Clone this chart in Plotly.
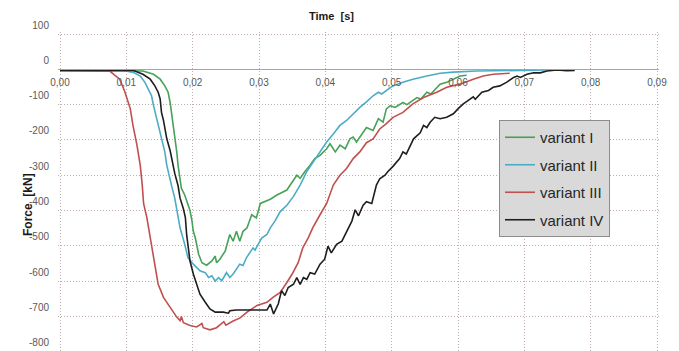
import plotly.graph_objects as go

# ---------------- data (time in s, force in kN) ----------------
time_I = [0.0, 0.0100, 0.0125, 0.0141, 0.0151, 0.0158, 0.0163, 0.0166, 0.0168, 0.0171, 0.0173,
          0.0176, 0.0178, 0.0181, 0.0183, 0.0188, 0.0193, 0.0196, 0.0199, 0.0201, 0.0204, 0.0209,
          0.0214, 0.0221, 0.0229, 0.0234, 0.0236, 0.0241, 0.0249, 0.0256, 0.0261, 0.0266, 0.0271,
          0.0276, 0.0282, 0.0289, 0.0296, 0.0302, 0.0317, 0.0327, 0.0342, 0.0347, 0.0357, 0.0362,
          0.0369, 0.0377, 0.0384, 0.0392, 0.0402, 0.0407, 0.0415, 0.0422, 0.0430, 0.0437, 0.0442,
          0.0447, 0.0455, 0.0462, 0.0472, 0.0480, 0.0487, 0.0492, 0.0498, 0.0505, 0.0517, 0.0523,
          0.0538, 0.0544, 0.0553, 0.0559, 0.0573, 0.0583, 0.0593, 0.0603, 0.0613]
force_I = [-3, -3, -5, -14, -28, -47, -65, -94, -122, -155, -197,
           -234, -272, -309, -337, -356, -384, -400, -430, -459, -478, -524,
           -548, -555, -543, -529, -548, -538, -515, -468, -487, -459, -487,
           -459, -449, -412, -421, -380, -368, -356, -342, -328, -300, -309,
           -290, -272, -253, -244, -225, -211, -234, -215, -225, -197, -192,
           -206, -183, -165, -173, -140, -150, -112, -103, -108, -94, -100,
           -80, -84, -65, -70, -42, -37, -28, -19, -17]

time_II = [0.0, 0.0095, 0.0111, 0.0121, 0.0128, 0.0133, 0.0138, 0.0141, 0.0146, 0.0148, 0.0153,
           0.0158, 0.0161, 0.0163, 0.0168, 0.0173, 0.0176, 0.0181, 0.0188, 0.0193, 0.0201, 0.0206,
           0.0211, 0.0219, 0.0224, 0.0229, 0.0234, 0.0239, 0.0244, 0.0251, 0.0256, 0.0261, 0.0266,
           0.0271, 0.0276, 0.0281, 0.0291, 0.0294, 0.0304, 0.0312, 0.0317, 0.0324, 0.0332, 0.0342,
           0.0352, 0.0362, 0.0372, 0.0382, 0.0392, 0.0402, 0.0412, 0.0422, 0.0432, 0.0442, 0.0452,
           0.0462, 0.0472, 0.0480, 0.0485, 0.0495, 0.0502, 0.0517, 0.0532, 0.0553, 0.0573, 0.0593,
           0.0628, 0.0734]
force_II = [-3, -3, -9, -19, -37, -56, -75, -103, -140, -159, -197,
            -234, -272, -290, -328, -365, -400, -449, -496, -534, -552, -562,
            -571, -576, -590, -585, -600, -590, -599, -576, -590, -580, -566,
            -552, -556, -534, -506, -512, -478, -468, -449, -430, -403, -385,
            -360, -328, -290, -262, -234, -206, -183, -159, -145, -126, -108,
            -92, -75, -65, -70, -56, -47, -37, -28, -19, -11, -8,
            -5, -2]

time_III = [0.0, 0.0050, 0.0075, 0.0090, 0.0098, 0.0106, 0.0110, 0.0116, 0.0121, 0.0124, 0.0126,
            0.0131, 0.0136, 0.0141, 0.0148, 0.0156, 0.0166, 0.0176, 0.0181, 0.0183, 0.0186, 0.0196,
            0.0206, 0.0214, 0.0216, 0.0226, 0.0236, 0.0247, 0.0250, 0.0261, 0.0271, 0.0282, 0.0297,
            0.0312, 0.0321, 0.0332, 0.0342, 0.0350, 0.0359, 0.0366, 0.0374, 0.0381, 0.0392, 0.0402,
            0.0412, 0.0422, 0.0432, 0.0442, 0.0452, 0.0462, 0.0472, 0.0482, 0.0492, 0.0502, 0.0517,
            0.0532, 0.0548, 0.0568, 0.0583, 0.0603, 0.0623, 0.0638, 0.0653, 0.0678]
force_III = [-3, -3, -5, -28, -65, -112, -159, -215, -272, -328, -380,
             -421, -478, -534, -609, -646, -674, -702, -712, -700, -718, -726,
             -730, -720, -732, -738, -732, -715, -725, -713, -705, -688, -669,
             -660, -646, -632, -604, -580, -548, -506, -478, -449, -412, -380,
             -328, -300, -281, -253, -234, -208, -197, -169, -154, -136, -122,
             -98, -80, -65, -51, -42, -28, -19, -14, -11]

time_IV = [0.0, 0.0110, 0.0125, 0.0136, 0.0143, 0.0148, 0.0151, 0.0153, 0.0156, 0.0161, 0.0166,
           0.0171, 0.0173, 0.0178, 0.0181, 0.0186, 0.0189, 0.0191, 0.0194, 0.0196, 0.0201, 0.0206,
           0.0211, 0.0219, 0.0226, 0.0234, 0.0246, 0.0254, 0.0256, 0.0266, 0.0291, 0.0312, 0.0317,
           0.0322, 0.0329, 0.0334, 0.0339, 0.0344, 0.0352, 0.0357, 0.0362, 0.0367, 0.0372, 0.0377,
           0.0384, 0.0392, 0.0399, 0.0404, 0.0409, 0.0417, 0.0425, 0.0432, 0.0440, 0.0445, 0.0450,
           0.0457, 0.0462, 0.0470, 0.0477, 0.0482, 0.0490, 0.0494, 0.0502, 0.0512, 0.0517, 0.0522,
           0.0533, 0.0543, 0.0548, 0.0553, 0.0558, 0.0565, 0.0573, 0.0583, 0.0593, 0.0601, 0.0608,
           0.0615, 0.0623, 0.0626, 0.0636, 0.0646, 0.0653, 0.0663, 0.0673, 0.0684, 0.0689, 0.0694,
           0.0704, 0.0714, 0.0724, 0.0734, 0.0749, 0.0764, 0.0776]
force_IV = [-3, -3, -14, -28, -47, -65, -84, -122, -145, -197, -230,
            -281, -295, -330, -365, -395, -420, -470, -515, -543, -580, -609,
            -637, -660, -679, -688, -688, -691, -684, -682, -682, -682, -665,
            -693, -665, -627, -641, -618, -609, -590, -609, -590, -595, -576,
            -580, -552, -538, -501, -520, -496, -487, -460, -430, -398, -415,
            -385, -375, -380, -328, -310, -300, -290, -275, -253, -234, -240,
            -197, -180, -159, -165, -150, -136, -140, -136, -126, -110, -98,
            -89, -78, -85, -65, -60, -51, -47, -37, -23, -19, -23,
            -14, -10, -10, -5, -2, -4, -3]

series_names = ["variant I", "variant II", "variant III", "variant IV"]
series_colors = ["#46a258", "#4bacc6", "#c0504d", "#1e1e1e"]

x_tickvals = [0.00, 0.01, 0.02, 0.03, 0.04, 0.05, 0.06, 0.07, 0.08, 0.09]
x_ticktext = ["0,00", "0,01", "0,02", "0,03", "0,04", "0,05", "0,06", "0,07", "0,08", "0,09"]
y_tickvals = [100, 0, -100, -200, -300, -400, -500, -600, -700, -800]
y_ticktext = ["100", "0", "-100", "-200", "-300", "-400", "-500", "-600", "-700", "-800"]

# ---------------- geometry (window pixels; page body has an 8px margin) ----------------
PAGE = 8
W, H = 679, 351
PL, PW = 58, 601          # plot area left / width in the window
PT, PH = 32, 320          # plot area top / height in the window
KX = 597 / 0.09           # px per second
KY = 0.353                # px per kN
X_MIN = -(2 / KX)
X_MAX = X_MIN + PW / KX
Y_MAX = 100 + 2 / KY
Y_MIN = Y_MAX - PH / KY


def fx(px):
    return (px - PL) / PW


def fy(py):
    return 1 - (py - PT) / PH


# ---------------- figure ----------------
fig = go.Figure()
all_t = [time_I, time_II, time_III, time_IV]
all_f = [force_I, force_II, force_III, force_IV]
for name, t, f, c in zip(series_names, all_t, all_f, series_colors):
    fig.add_trace(go.Scatter(x=t, y=f, mode="lines", name=name, legendgroup=name,
                             line=dict(color=c, width=1.6)))

grid_col = "#bfaeae"
fig.update_layout(
    width=W, height=H,
    margin=dict(l=PL - PAGE, r=W - (PL - PAGE) - PW, t=PT - PAGE,
                b=H - (PT - PAGE) - PH, autoexpand=False),
    paper_bgcolor="white", plot_bgcolor="white",
    font=dict(family="Arial, 'Liberation Sans', sans-serif", size=10, color="#595959"),
    xaxis=dict(range=[X_MIN, X_MAX], tickvals=x_tickvals, ticktext=x_ticktext,
               showgrid=True, gridcolor=grid_col, griddash="1px,2px", gridwidth=1,
               zeroline=False, anchor="free", position=(0 - Y_MIN) / (Y_MAX - Y_MIN),
               showline=True, linecolor="#a6a6a6", linewidth=1, ticks="",
               ticklabelstandoff=4, automargin=False,
               tickfont=dict(size=10, color="#595959")),
    yaxis=dict(range=[Y_MIN, Y_MAX], tickvals=y_tickvals, ticktext=y_ticktext,
               showgrid=True, gridcolor=grid_col, griddash="1px,2px", gridwidth=1,
               zeroline=False, showline=False, ticks="", ticklabelshift=-9,
               ticklabelstandoff=8, automargin=False,
               tickfont=dict(size=10, color="#595959")),
    legend=dict(x=fx(499), y=fy(120), xanchor="left", yanchor="top",
                bgcolor="#d9d9d9", bordercolor="#8c8c8c", borderwidth=1,
                font=dict(size=15, color="#262626"), tracegroupgap=5,
                entrywidth=82, entrywidthmode="pixels"),
    showlegend=True,
    annotations=[
        dict(text="<b>Time \u00a0[s]</b>", xref="paper", yref="paper",
             x=fx(331), y=fy(16), showarrow=False,
             font=dict(size=11, color="#1a1a1a"), xanchor="center", yanchor="middle"),
        dict(text="<b>Force \u00a0[kN]</b>", xref="paper", yref="paper",
             x=fx(28), y=fy(205), showarrow=False, textangle=-90,
             font=dict(size=12, color="#1a1a1a"), xanchor="center", yanchor="middle"),
    ],
)

fig.write_html("out.html")
